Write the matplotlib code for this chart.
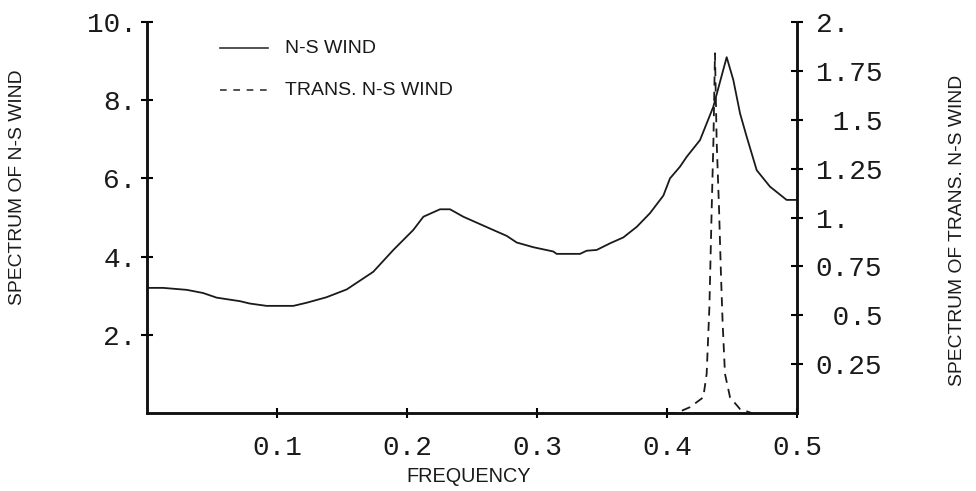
import matplotlib
matplotlib.use("Agg")
import matplotlib.pyplot as plt

# N-S wind spectrum (left axis)
freq_ns = [0.0, 0.0123, 0.0305, 0.043, 0.0536, 0.0715, 0.079, 0.092, 0.1126, 0.1228,
           0.138, 0.1536, 0.174, 0.1895, 0.2048, 0.2126, 0.2254, 0.2331, 0.2433,
           0.2562, 0.2664, 0.2767, 0.2844, 0.2972, 0.3126, 0.3151, 0.3331, 0.3382,
           0.3459, 0.3562, 0.3664, 0.3767, 0.3869, 0.3972, 0.4023, 0.41, 0.4151,
           0.4254, 0.4356, 0.4459, 0.451, 0.4562, 0.4610, 0.469, 0.4792, 0.492, 0.50]
spec_ns = [3.20, 3.20, 3.15, 3.07, 2.95, 2.86, 2.80, 2.74, 2.74, 2.82,
           2.96, 3.16, 3.61, 4.17, 4.68, 5.02, 5.21, 5.21, 5.02,
           4.83, 4.68, 4.53, 4.36, 4.24, 4.13, 4.07, 4.07, 4.15,
           4.17, 4.34, 4.49, 4.76, 5.11, 5.56, 6.00, 6.30, 6.55,
           6.98, 7.83, 9.10, 8.52, 7.66, 7.10, 6.21, 5.79, 5.45, 5.45]

# Transformed N-S wind spectrum (right axis)
freq_tr = [0.40, 0.4074, 0.4177, 0.4279, 0.4305, 0.4326, 0.4344, 0.4357, 0.4369,
           0.4382, 0.4400, 0.4415, 0.4428, 0.4446, 0.4485, 0.4562, 0.465]
spec_tr = [0.0, 0.0, 0.03, 0.08, 0.20, 0.54, 1.05, 1.39, 1.84,
           1.39, 1.05, 0.71, 0.46, 0.20, 0.08, 0.02, 0.0]

x_ticks = [0.1, 0.2, 0.3, 0.4, 0.5]
x_ticklabels = ["0.1", "0.2", "0.3", "0.4", "0.5"]
left_ticks = [2, 4, 6, 8, 10]
left_ticklabels = ["2.", "4.", "6.", "8.", "10."]
right_ticks = [0.25, 0.5, 0.75, 1.0, 1.25, 1.5, 1.75, 2.0]
right_ticklabels = ["0.25", " 0.5", "0.75", "1.", "1.25", " 1.5", "1.75", "2."]

mono = ["Liberation Mono", "DejaVu Sans Mono"]
sans = ["Liberation Sans", "DejaVu Sans"]
ink = "#1a1a1a"

fig = plt.figure(figsize=(9.76, 4.91), dpi=100)
ax = fig.add_axes([147/976, 1 - 413/491, 650/976, 391/491])
ax2 = ax.twinx()

ax.plot(freq_ns, spec_ns, color=ink, lw=1.3)
ax2.plot(freq_tr, spec_tr, color=ink, lw=1.3, linestyle=(0, (5, 3.5)))

ax.set_xlim(0, 0.5)
ax.set_ylim(0, 10)
ax2.set_ylim(0, 2)

for a in (ax, ax2):
    a.spines["top"].set_visible(False)
    for s in a.spines.values():
        s.set_linewidth(1.8)
        s.set_color("#111111")

ax.set_xticks(x_ticks)
ax.set_xticklabels(x_ticklabels, family=mono, fontsize=20, color=ink)
ax.set_yticks(left_ticks)
ax.set_yticklabels(left_ticklabels, family=mono, fontsize=20, color=ink)
ax2.set_yticks(right_ticks)
ax2.set_yticklabels(right_ticklabels, family=mono, fontsize=20, color=ink)

ax.tick_params(axis="x", direction="inout", length=7, width=1.5, pad=12)
ax.tick_params(axis="y", direction="inout", length=9, width=1.5, pad=3)
ax2.tick_params(axis="y", direction="inout", length=9, width=1.5, pad=9)

fig.text(469/976, 1 - 477/491, "FREQUENCY", family=sans, fontsize=14.3,
         ha="center", va="center", color=ink)
fig.text(18/976, 1 - 187/491, "SPECTRUM OF N-S WIND", rotation=90,
         family=sans, fontsize=13.9, ha="center", va="center", color=ink)
fig.text(958/976, 1 - 230/491, "SPECTRUM OF TRANS. N-S WIND", rotation=90,
         family=sans, fontsize=13.9, ha="center", va="center", color=ink)

# legend drawn manually in axes coordinates
ax.plot([0.112, 0.186], [0.9335, 0.9335], transform=ax.transAxes, color="#333333", lw=1.2)
ax.text(0.212, 0.9335, "N-S WIND", transform=ax.transAxes, family=sans,
        fontsize=14, va="center", ha="left", color=ink)
ax.plot([0.112, 0.186], [0.826, 0.826], transform=ax.transAxes, color="#333333",
        lw=1.2, linestyle=(0, (4, 4)))
ax.text(0.212, 0.826, "TRANS. N-S WIND", transform=ax.transAxes, family=sans,
        fontsize=14, va="center", ha="left", color=ink)

fig.savefig("out.png", dpi=100)
